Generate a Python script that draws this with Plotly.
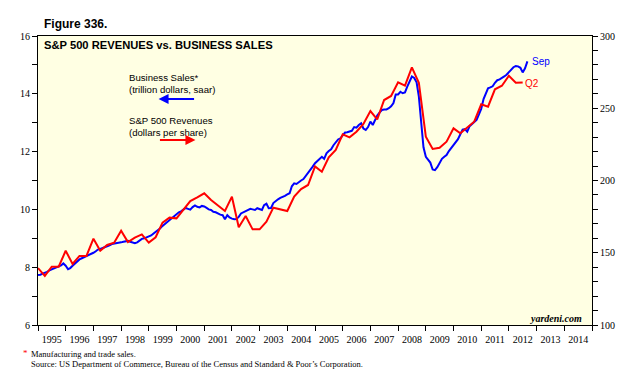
import pandas as pd
import plotly.graph_objects as go

# Business sales (trillion dollars, saar), monthly Jan 1995 - Sep 2012
sales_values = [
    7.73, 7.74, 7.78, 7.80, 7.84, 7.89, 7.92, 7.95, 7.99, 8.03, 8.06, 8.13,   # 1995
    8.05, 7.93, 7.97, 8.05, 8.13, 8.22, 8.27, 8.31, 8.35, 8.38, 8.42, 8.44,   # 1996
    8.50, 8.55, 8.61, 8.63, 8.66, 8.68, 8.72, 8.76, 8.80, 8.81, 8.83, 8.85,   # 1997
    8.86, 8.88, 8.90, 8.91, 8.88, 8.85, 8.83, 8.86, 8.92, 8.98, 9.00, 9.03,   # 1998
    9.06, 9.10, 9.16, 9.22, 9.28, 9.35, 9.43, 9.50, 9.56, 9.62, 9.68, 9.76,   # 1999
    9.84, 9.90, 9.93, 9.98, 10.05, 10.02, 9.99, 10.08, 10.14, 10.09, 10.07, 10.12,  # 2000
    10.10, 10.05, 10.00, 9.98, 9.92, 9.90, 9.85, 9.82, 9.80, 9.66, 9.80, 9.72,  # 2001
    9.68, 9.66, 9.67, 9.74, 9.86, 9.90, 9.93, 9.96, 10.02, 10.00, 9.98, 10.04,  # 2002
    10.00, 9.98, 10.15, 10.20, 10.04, 10.05, 10.22, 10.30, 10.35, 10.40, 10.43, 10.47,  # 2003
    10.52, 10.56, 10.80, 10.90, 10.88, 10.95, 11.00, 11.05, 11.15, 11.28, 11.38, 11.48,  # 2004
    11.60, 11.68, 11.76, 11.82, 11.75, 11.94, 12.02, 12.08, 12.22, 12.33, 12.42, 12.46,  # 2005
    12.58, 12.66, 12.67, 12.69, 12.72, 12.85, 12.83, 12.92, 12.98, 12.80, 12.75, 12.85,  # 2006
    13.04, 12.92, 13.08, 13.25, 13.35, 13.44, 13.46, 13.46, 13.50, 13.57, 13.68, 13.98,  # 2007
    13.98, 14.07, 14.02, 14.05, 14.25, 14.45, 14.60, 14.55, 14.40, 13.90, 13.00, 12.15,  # 2008
    11.82, 11.70, 11.62, 11.38, 11.36, 11.46, 11.62, 11.75, 11.82, 11.88, 12.02, 12.13,  # 2009
    12.25, 12.34, 12.43, 12.60, 12.76, 12.78, 12.69, 12.88, 12.96, 13.04, 13.10, 13.28,  # 2010
    13.48, 13.82, 14.02, 14.19, 14.22, 14.26, 14.38, 14.47, 14.50, 14.54, 14.60, 14.66,  # 2011
    14.75, 14.85, 14.92, 14.96, 14.95, 14.90, 14.74, 14.88, 15.12,                       # 2012
]
sales_dates = pd.date_range("1995-01-01", periods=len(sales_values), freq="MS")

# S&P 500 revenues (dollars per share), quarterly Q4 1994 - Q2 2012
revenue_values = [
    139.4,
    134.0, 140.3, 140.3, 151.4,
    142.2, 147.8, 147.8, 159.7,
    151.4, 155.4, 157.0, 165.3,
    157.4, 160.4, 162.7, 157.0,
    160.7, 170.8, 174.3, 173.8,
    179.6, 185.8, 188.3, 191.1,
    186.5, 183.0, 178.9, 188.8,
    167.6, 175.4, 166.2, 166.2,
    171.5, 181.2, 180.1, 178.9,
    188.8, 194.1, 196.9, 209.8,
    206.1, 216.0, 221.1, 232.0,
    229.9, 233.8, 239.1, 248.1,
    242.3, 255.7, 258.5, 268.0,
    265.6, 278.3, 267.6, 230.3,
    221.8, 222.7, 226.9, 236.1,
    232.7, 236.6, 240.7, 252.7,
    251.1, 263.1, 265.6, 272.5,
    267.6, 267.9,
]
revenue_dates = pd.date_range("1995-01-01", periods=len(revenue_values), freq="QS")

year_range = ["1995-01-01", "2015-01-01"]
left_range = [6, 16]
right_range = [100, 300]

BLUE = "#0000FF"
RED = "#FF0000"
SANS = "Liberation Sans, Arial, sans-serif"
SERIF = "Liberation Serif, Times New Roman, serif"

fig = go.Figure()
fig.add_trace(go.Scatter(x=sales_dates, y=sales_values, mode="lines",
                         line=dict(color=BLUE, width=2), yaxis="y"))
fig.add_trace(go.Scatter(x=revenue_dates, y=revenue_values, mode="lines",
                         line=dict(color=RED, width=2), yaxis="y2"))

# page body has an 8px margin, so the figure starts at (8, 8)
fig.update_layout(
    width=628, height=371,
    margin=dict(l=28, r=44, t=28, b=54),
    paper_bgcolor="white",
    plot_bgcolor="#FFFFE3",
    showlegend=False,
    xaxis=dict(
        type="date", range=year_range, dtick="M12", tick0="1995-01-01",
        ticklabelmode="period", tickformat="%Y", ticks="outside", ticklen=5,
        tickcolor="black", showgrid=False, zeroline=False,
        showline=True, linecolor="black", linewidth=1, mirror=True,
        tickfont=dict(family=SERIF, size=10, color="black"),
    ),
    yaxis=dict(
        range=left_range, dtick=2, ticks="outside", ticklen=5, tickcolor="black",
        showgrid=False, zeroline=False, showline=True, linecolor="black",
        linewidth=1, tickfont=dict(family=SERIF, size=10, color="black"),
        minor=dict(dtick=1, ticks="outside", ticklen=5, tickcolor="black", showgrid=False),
    ),
    yaxis2=dict(
        range=right_range, dtick=50, overlaying="y", side="right",
        ticks="outside", ticklen=5, tickcolor="black", showgrid=False,
        zeroline=False, showline=True, linecolor="black", linewidth=1,
        tickfont=dict(family=SERIF, size=10, color="black"),
        minor=dict(dtick=10, ticks="outside", ticklen=5, tickcolor="black", showgrid=False),
    ),
)

def px(x):
    return (x - 36) / 556

def py(y):
    return (325 - y) / 289

ann = []
ann.append(dict(x=px(40), y=py(24), xref="paper", yref="paper", xanchor="left",
                yanchor="middle", text="<b>Figure 336.</b>", showarrow=False,
                font=dict(family=SANS, size=12, color="black")))
ann.append(dict(x=px(40), y=py(45), xref="paper", yref="paper", xanchor="left",
                yanchor="middle", text="<b>S&P 500 REVENUES vs. BUSINESS SALES</b>",
                showarrow=False, font=dict(family=SANS, size=11.2, color="black")))
ann.append(dict(x=px(125), y=py(70), xref="paper", yref="paper", xanchor="left",
                yanchor="top", align="left",
                text="Business Sales*<br>(trillion dollars, saar)", showarrow=False,
                font=dict(family=SANS, size=9.6, color="black")))
ann.append(dict(x=px(125), y=py(113), xref="paper", yref="paper", xanchor="left",
                yanchor="top", align="left",
                text="S&P 500 Revenues<br>(dollars per share)", showarrow=False,
                font=dict(family=SANS, size=9.6, color="black")))
ann.append(dict(x=px(157), y=py(99), xref="paper", yref="paper", text="",
                showarrow=True, ax=37, ay=0, arrowhead=2, arrowsize=1,
                arrowwidth=2, arrowcolor=BLUE))
ann.append(dict(x=px(194), y=py(140), xref="paper", yref="paper", text="",
                showarrow=True, ax=-37, ay=0, arrowhead=2, arrowsize=1,
                arrowwidth=2, arrowcolor=RED))
ann.append(dict(x=px(530), y=py(61), xref="paper", yref="paper", xanchor="left",
                yanchor="middle", text="Sep", showarrow=False,
                font=dict(family=SANS, size=10, color=BLUE)))
ann.append(dict(x=px(523), y=py(83), xref="paper", yref="paper", xanchor="left",
                yanchor="middle", text="Q2", showarrow=False,
                font=dict(family=SANS, size=10, color=RED)))
ann.append(dict(x=px(584), y=py(318), xref="paper", yref="paper", xanchor="right",
                yanchor="middle", text="<b><i>yardeni.com</i></b>", showarrow=False,
                font=dict(family=SERIF, size=10, color="black")))
ann.append(dict(x=px(19), y=py(353), xref="paper", yref="paper", xanchor="left",
                yanchor="middle", text="*", showarrow=False,
                font=dict(family=SERIF, size=9, color=RED)))
ann.append(dict(x=px(27), y=py(354), xref="paper", yref="paper", xanchor="left",
                yanchor="middle", text="Manufacturing and trade sales.", showarrow=False,
                font=dict(family=SERIF, size=8.5, color="black")))
ann.append(dict(x=px(27), y=py(364), xref="paper", yref="paper", xanchor="left",
                yanchor="middle",
                text="Source: US Department of Commerce, Bureau of the Census and Standard & Poor’s Corporation.",
                showarrow=False, font=dict(family=SERIF, size=8.5, color="black")))
fig.update_layout(annotations=ann)

fig.write_html("out.html")
